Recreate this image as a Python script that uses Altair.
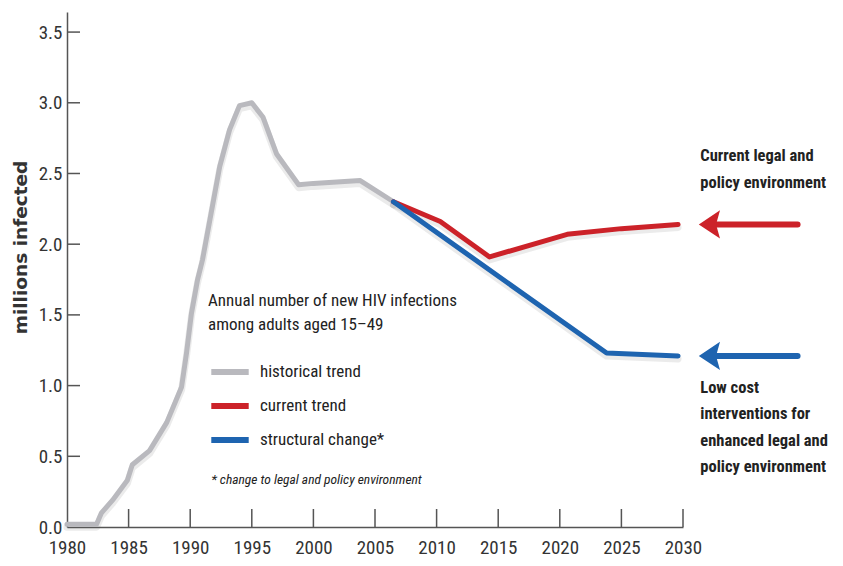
import altair as alt
import pandas as pd

# ---------------- data ----------------
hist_years = [1980, 1982.4, 1982.8, 1983.7, 1984.9, 1985.3, 1986.7, 1988.1, 1989.3, 1989.7,
              1990.1, 1990.6, 1991.0, 1992.4, 1993.2, 1994.0, 1995.0, 1995.9, 1997.0,
              1998.8, 2000.0, 2003.8, 2006.5]
hist_vals = [0.02, 0.02, 0.10, 0.19, 0.33, 0.44, 0.54, 0.74, 0.99, 1.23,
             1.51, 1.75, 1.89, 2.55, 2.81, 2.98, 3.00, 2.90, 2.64,
             2.42, 2.43, 2.45, 2.30]
cur_years = [2006.5, 2010.3, 2014.3, 2020.6, 2025.0, 2029.6]
cur_vals = [2.30, 2.16, 1.91, 2.07, 2.11, 2.14]
str_years = [2006.5, 2023.8, 2029.6]
str_vals = [2.30, 1.23, 1.21]

series_names = ["historical trend", "current trend", "structural change*"]
series_colors = ["#b9b9be", "#cc2229", "#1e64b0"]

x_ticks = [1980, 1985, 1990, 1995, 2000, 2005, 2010, 2015, 2020, 2025, 2030]
y_ticks = [0.0, 0.5, 1.0, 1.5, 2.0, 2.5, 3.0, 3.5]

legend_title = ["Annual number of new HIV infections", "among adults aged 15\u201349"]
footnote = "* change to legal and policy environment"
note_current = "Current legal and\npolicy environment"
note_struct = "Low cost\ninterventions for\nenhanced legal and\npolicy environment"

# annotation anchors (data units)
note_x = 2031.4
note_current_y = 2.68
note_struct_y = 1.04
arrow_head_x = 2032.43
arrow_tail_x = 2039.3
arrow_shaft_x = 2032.6
foot_x = 1991.7
foot_y = 0.33

FONT = "Roboto Condensed, Open Sans Condensed, DejaVu Sans Condensed, sans-serif"
TITLE_FONT = "DejaVu Sans, Open Sans, sans-serif"
W, H = 616, 515

rows = []
for name, ys, vs in [(series_names[0], hist_years, hist_vals),
                     (series_names[1], cur_years, cur_vals),
                     (series_names[2], str_years, str_vals)]:
    for i, (yr, v) in enumerate(zip(ys, vs)):
        rows.append({"series": name, "year": yr, "value": v, "idx": i})
df = pd.DataFrame(rows)

xscale = alt.Scale(domain=[1980, 2030], nice=False, zero=False)
yscale = alt.Scale(domain=[0, 3.642], nice=False)

xenc = alt.X("year:Q", scale=xscale,
             axis=alt.Axis(values=x_ticks, format="d", ticks=False, grid=False, title=None,
                           labelFontSize=19, labelPadding=26, labelBaseline="alphabetic",
                           labelFont=FONT, labelColor="#333",
                           labelFlush=False, domainColor="#555", domainWidth=1.5, labelOverlap=False))
yenc = alt.Y("value:Q", scale=yscale,
             axis=alt.Axis(values=y_ticks, format=".1f", ticks=False, grid=False,
                           title="millions infected", titleFont=TITLE_FONT, titleFontSize=18.5,
                           titleFontWeight="bold", titleColor="#333", titlePadding=8,
                           titleY=235,
                           labelFontSize=19, labelPadding=5, labelFont=FONT, labelColor="#333",
                           domainColor="#555", domainWidth=1.5, labelOverlap=False))

base = alt.Chart(df)

shadow = base.mark_line(strokeWidth=7, color="#666", opacity=0.13, yOffset=3,
                        strokeCap="round", strokeJoin="round").encode(
    x=xenc, y=yenc, detail="series:N", order="idx:Q")

lines = base.mark_line(strokeWidth=5, strokeCap="round", strokeJoin="round").encode(
    x=xenc, y=yenc, order="idx:Q",
    color=alt.Color("series:N",
                    scale=alt.Scale(domain=series_names, range=series_colors),
                    sort=series_names,
                    legend=alt.Legend(orient="none", legendX=141, legendY=281,
                                      title=legend_title, titleFont=FONT, titleFontSize=17,
                                      titleFontWeight="normal", titleColor="#222",
                                      titleLineHeight=24, titlePadding=16, titleLimit=400,
                                      labelFont=FONT, labelFontSize=17, labelColor="#222",
                                      labelLimit=300,
                                      symbolType="stroke", symbolStrokeWidth=6, symbolSize=1400,
                                      labelOffset=8, rowPadding=0)))

xt = pd.DataFrame({"year": x_ticks[1:]})
xtick_rules = alt.Chart(xt).mark_rule(color="#555", strokeWidth=1.5).encode(
    x=alt.X("year:Q", scale=xscale), y=alt.value(H - 18), y2=alt.value(H))
yt = pd.DataFrame({"value": y_ticks[1:]})
ytick_rules = alt.Chart(yt).mark_rule(color="#555", strokeWidth=1.5).encode(
    y=alt.Y("value:Q", scale=yscale), x=alt.value(0), x2=alt.value(13))

arrows = pd.DataFrame({
    "x1": [arrow_shaft_x, arrow_shaft_x], "x2": [arrow_tail_x, arrow_tail_x],
    "hx": [arrow_head_x, arrow_head_x],
    "value": [cur_vals[-1], str_vals[-1]],
    "c": [series_colors[1], series_colors[2]]})
shaft = alt.Chart(arrows).mark_rule(strokeWidth=6, strokeCap="round").encode(
    x=alt.X("x1:Q", scale=xscale), x2="x2:Q", y=alt.Y("value:Q", scale=yscale),
    color=alt.Color("c:N", scale=None))
head = alt.Chart(arrows).mark_point(
    shape="M-1,0L0.5,-1L0.22,0L0.5,1Z", filled=True, size=800, opacity=1).encode(
    x=alt.X("hx:Q", scale=xscale), y=alt.Y("value:Q", scale=yscale),
    color=alt.Color("c:N", scale=None))

notes = pd.DataFrame({"x": [note_x, note_x], "value": [note_current_y, note_struct_y],
                      "t": [note_current, note_struct]})
note_text = alt.Chart(notes).mark_text(
    align="left", baseline="top", font=FONT, fontSize=16.5, fontWeight="bold",
    color="#222", lineBreak="\n", lineHeight=26.5).encode(
    x=alt.X("x:Q", scale=xscale), y=alt.Y("value:Q", scale=yscale), text="t:N")

foot = pd.DataFrame({"x": [foot_x], "value": [foot_y], "t": [footnote]})
foot_text = alt.Chart(foot).mark_text(
    align="left", baseline="middle", font=FONT, fontSize=13.5, fontStyle="italic",
    color="#222").encode(
    x=alt.X("x:Q", scale=xscale), y=alt.Y("value:Q", scale=yscale), text="t:N")

chart = alt.layer(shadow, lines, xtick_rules, ytick_rules, shaft, head, note_text, foot_text).properties(
    width=W, height=H,
    autosize=alt.AutoSizeParams(type="none"),
    padding={"left": 59, "top": 4, "right": 151, "bottom": 31},
    background="white",
).configure_view(stroke=None)

chart.save("out.html", embed_options={"renderer": "svg", "actions": False})
